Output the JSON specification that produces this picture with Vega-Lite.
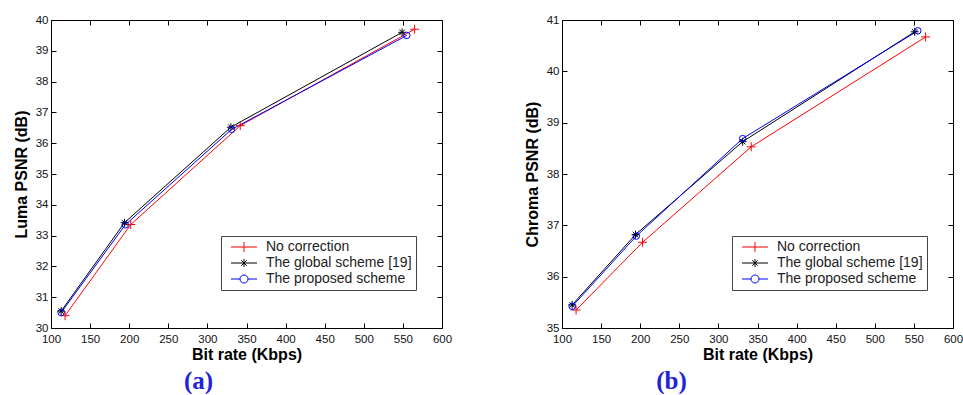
{
  "$schema": "https://vega.github.io/schema/vega-lite/v6.json",
  "background": "white",
  "padding": {"left": 12, "top": 13, "right": 0, "bottom": 0},
  "config": {
    "font": "Liberation Sans",
    "view": {"stroke": "#000", "strokeWidth": 1},
    "axis": {
      "grid": false,
      "domain": false,
      "tickSize": -5,
      "tickColor": "#000",
      "tickWidth": 1,
      "labelFont": "Liberation Sans",
      "labelFontSize": 11.5,
      "labelColor": "#111",
      "labelPadding": 8,
      "labelFlush": false,
      "labelOverlap": false,
      "titleFont": "Liberation Sans",
      "titleFontSize": 16,
      "titleFontWeight": "bold",
      "titleColor": "#000"
    },
    "legend": {
      "orient": "none",
      "legendX": 170,
      "legendY": 216,
      "strokeColor": "#444",
      "fillColor": "white",
      "padding": 4,
      "labelFont": "Liberation Sans",
      "labelFontSize": 14,
      "labelColor": "#222",
      "symbolSize": 100,
      "symbolOffset": 12,
      "labelOffset": 15,
      "rowPadding": 2,
      "symbolStrokeWidth": 1
    }
  },
  "datasets": {
    "pts": [
      {"panel": "luma", "scheme": "No correction", "rate": 118, "psnr": 30.4},
      {"panel": "luma", "scheme": "No correction", "rate": 202, "psnr": 33.36},
      {"panel": "luma", "scheme": "No correction", "rate": 342, "psnr": 36.57},
      {"panel": "luma", "scheme": "No correction", "rate": 565, "psnr": 39.7},
      {"panel": "luma", "scheme": "The global scheme [19]", "rate": 113, "psnr": 30.55},
      {"panel": "luma", "scheme": "The global scheme [19]", "rate": 194, "psnr": 33.42},
      {"panel": "luma", "scheme": "The global scheme [19]", "rate": 330, "psnr": 36.52},
      {"panel": "luma", "scheme": "The global scheme [19]", "rate": 549, "psnr": 39.6},
      {"panel": "luma", "scheme": "The proposed scheme", "rate": 113, "psnr": 30.5},
      {"panel": "luma", "scheme": "The proposed scheme", "rate": 195, "psnr": 33.35},
      {"panel": "luma", "scheme": "The proposed scheme", "rate": 331, "psnr": 36.45},
      {"panel": "luma", "scheme": "The proposed scheme", "rate": 555, "psnr": 39.5},
      {"panel": "chroma", "scheme": "No correction", "rate": 118, "psnr": 35.35},
      {"panel": "chroma", "scheme": "No correction", "rate": 203, "psnr": 36.67},
      {"panel": "chroma", "scheme": "No correction", "rate": 342, "psnr": 38.53},
      {"panel": "chroma", "scheme": "No correction", "rate": 565, "psnr": 40.67},
      {"panel": "chroma", "scheme": "The global scheme [19]", "rate": 113, "psnr": 35.45},
      {"panel": "chroma", "scheme": "The global scheme [19]", "rate": 194, "psnr": 36.82},
      {"panel": "chroma", "scheme": "The global scheme [19]", "rate": 331, "psnr": 38.63},
      {"panel": "chroma", "scheme": "The global scheme [19]", "rate": 551, "psnr": 40.77},
      {"panel": "chroma", "scheme": "The proposed scheme", "rate": 113, "psnr": 35.42},
      {"panel": "chroma", "scheme": "The proposed scheme", "rate": 195, "psnr": 36.79},
      {"panel": "chroma", "scheme": "The proposed scheme", "rate": 331, "psnr": 38.69},
      {"panel": "chroma", "scheme": "The proposed scheme", "rate": 555, "psnr": 40.79}
    ]
  },
  "data": {"name": "pts"},
  "bounds": "flush",
  "spacing": 120,
  "resolve": {"scale": {"y": "independent"}, "legend": {"color": "independent"}},
  "hconcat": [
    {
      "width": 391,
      "height": 308,
      "title": {"text": "(a)", "orient": "bottom", "anchor": "middle", "dx": -48, "offset": 6, "font": "Liberation Serif", "fontSize": 25, "fontWeight": "bold", "color": "#2222dd"},
      "transform": [{"filter": "datum.panel === 'luma'"}],
      "resolve": {"axis": {"x": "independent", "y": "independent"}},
      "layer": [
        {
          "mark": {"type": "line", "strokeWidth": 1},
          "encoding": {
            "x": {"field": "rate", "type": "quantitative", "scale": {"domain": [100, 600], "nice": false, "zero": false}, "axis": {"orient": "bottom", "values": [100,150,200,250,300,350,400,450,500,550,600], "title": "Bit rate (Kbps)", "labelPadding": 10, "titlePadding": 2}},
            "y": {"field": "psnr", "type": "quantitative", "scale": {"domain": [30, 40], "nice": false, "zero": false}, "axis": {"orient": "left", "values": [30,31,32,33,34,35,36,37,38,39,40], "title": "Luma PSNR (dB)", "titlePadding": 6}},
            "color": {"field": "scheme", "type": "nominal", "scale": {"domain": ["No correction", "The global scheme [19]", "The proposed scheme"], "range": ["#ff0000", "#000000", "#0000ff"]},
              "legend": {"title": null, "encode": {"symbols": {"update": {
                "shape": {"signal": "datum.value === 'No correction' ? 'M-2.6,0H2.6M0,-1V1' : datum.value === 'The proposed scheme' ? 'M-2.6,0H-0.8M0.8,0H2.6M-0.8,0A0.8,0.8 0 1,0 0.8,0A0.8,0.8 0 1,0 -0.8,0' : 'M-2.6,0H2.6M0,-0.8V0.8M-0.55,-0.55L0.55,0.55M-0.55,0.55L0.55,-0.55'"},
                "stroke": {"signal": "datum.value === 'No correction' ? '#ff0000' : datum.value === 'The proposed scheme' ? '#0000ff' : '#000000'"},
                "fill": {"value": "transparent"},
                "size": {"value": 100},
                "strokeWidth": {"value": 1},
                "opacity": {"value": 1}
              }}}}}
          }
        },
        {
          "mark": {"type": "point", "filled": false, "strokeWidth": 1, "opacity": 1},
          "encoding": {
            "x": {"field": "rate", "type": "quantitative", "axis": {"orient": "top", "values": [100,150,200,250,300,350,400,450,500,550,600], "labels": false, "title": null}},
            "y": {"field": "psnr", "type": "quantitative", "axis": {"orient": "right", "values": [30,31,32,33,34,35,36,37,38,39,40], "labels": false, "title": null}},
            "color": {"field": "scheme", "type": "nominal", "legend": null},
            "shape": {"field": "scheme", "type": "nominal", "legend": null, "scale": {"domain": ["No correction", "The global scheme [19]", "The proposed scheme"], "range": ["M-1,0H1M0,-1V1", "M-1,0H1M0,-1V1M-0.7,-0.7L0.7,0.7M-0.7,0.7L0.7,-0.7", "circle"]}},
            "size": {"field": "scheme", "type": "nominal", "legend": null, "scale": {"domain": ["No correction", "The global scheme [19]", "The proposed scheme"], "range": [81, 42, 64]}}
          }
        }
      ]
    },
    {
      "width": 391,
      "height": 308,
      "title": {"text": "(b)", "orient": "bottom", "anchor": "middle", "dx": -86, "offset": 6, "font": "Liberation Serif", "fontSize": 25, "fontWeight": "bold", "color": "#2222dd"},
      "transform": [{"filter": "datum.panel === 'chroma'"}],
      "resolve": {"axis": {"x": "independent", "y": "independent"}},
      "layer": [
        {
          "mark": {"type": "line", "strokeWidth": 1},
          "encoding": {
            "x": {"field": "rate", "type": "quantitative", "scale": {"domain": [100, 600], "nice": false, "zero": false}, "axis": {"orient": "bottom", "values": [100,150,200,250,300,350,400,450,500,550,600], "title": "Bit rate (Kbps)", "labelPadding": 10, "titlePadding": 2}},
            "y": {"field": "psnr", "type": "quantitative", "scale": {"domain": [35, 41], "nice": false, "zero": false}, "axis": {"orient": "left", "values": [35,36,37,38,39,40,41], "title": "Chroma PSNR (dB)", "titlePadding": 6}},
            "color": {"field": "scheme", "type": "nominal", "scale": {"domain": ["No correction", "The global scheme [19]", "The proposed scheme"], "range": ["#ff0000", "#000000", "#0000ff"]},
              "legend": {"title": null, "encode": {"symbols": {"update": {
                "shape": {"signal": "datum.value === 'No correction' ? 'M-2.6,0H2.6M0,-1V1' : datum.value === 'The proposed scheme' ? 'M-2.6,0H-0.8M0.8,0H2.6M-0.8,0A0.8,0.8 0 1,0 0.8,0A0.8,0.8 0 1,0 -0.8,0' : 'M-2.6,0H2.6M0,-0.8V0.8M-0.55,-0.55L0.55,0.55M-0.55,0.55L0.55,-0.55'"},
                "stroke": {"signal": "datum.value === 'No correction' ? '#ff0000' : datum.value === 'The proposed scheme' ? '#0000ff' : '#000000'"},
                "fill": {"value": "transparent"},
                "size": {"value": 100},
                "strokeWidth": {"value": 1},
                "opacity": {"value": 1}
              }}}}}
          }
        },
        {
          "mark": {"type": "point", "filled": false, "strokeWidth": 1, "opacity": 1},
          "encoding": {
            "x": {"field": "rate", "type": "quantitative", "axis": {"orient": "top", "values": [100,150,200,250,300,350,400,450,500,550,600], "labels": false, "title": null}},
            "y": {"field": "psnr", "type": "quantitative", "axis": {"orient": "right", "values": [35,36,37,38,39,40,41], "labels": false, "title": null}},
            "color": {"field": "scheme", "type": "nominal", "legend": null},
            "shape": {"field": "scheme", "type": "nominal", "legend": null, "scale": {"domain": ["No correction", "The global scheme [19]", "The proposed scheme"], "range": ["M-1,0H1M0,-1V1", "M-1,0H1M0,-1V1M-0.7,-0.7L0.7,0.7M-0.7,0.7L0.7,-0.7", "circle"]}},
            "size": {"field": "scheme", "type": "nominal", "legend": null, "scale": {"domain": ["No correction", "The global scheme [19]", "The proposed scheme"], "range": [81, 42, 64]}}
          }
        }
      ]
    }
  ]
}
